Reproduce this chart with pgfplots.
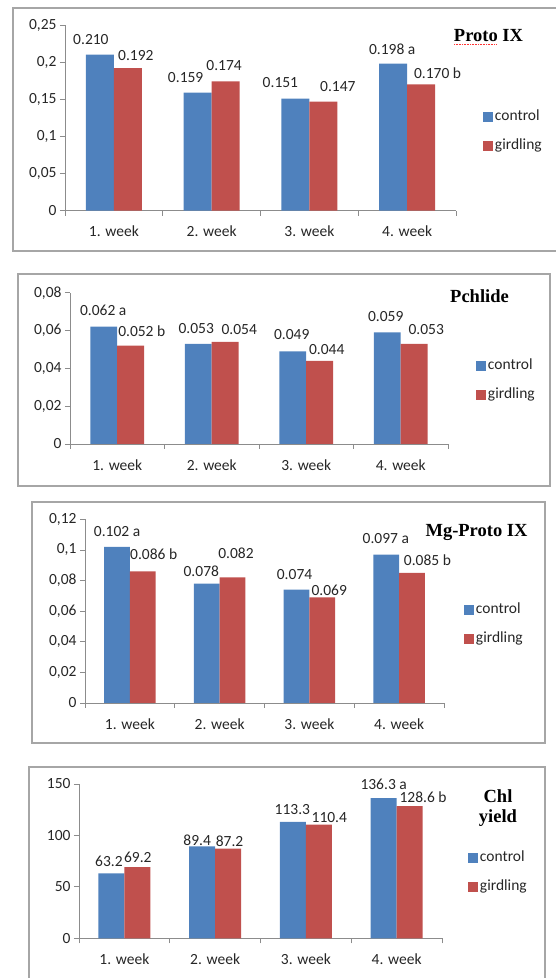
\documentclass[border=0pt]{standalone}
\usepackage{pgfplots}
\pgfplotsset{compat=1.18}
\usepackage{pgfplotstable}
\usepackage{fontspec}
\setmainfont{Carlito}
\newfontfamily\timesf{Liberation Serif}
\definecolor{cblue}{HTML}{4F81BD}
\definecolor{cred}{HTML}{C0504D}
\definecolor{axgray}{HTML}{8C8C8C}
\definecolor{boxgray}{HTML}{A6A6A6}

\pgfplotstableread{
x c cl cdx cdy g gl gdx gdy
1 0.210 0.210 -9 14.7 0.192 0.192 8 13
2 0.159 0.159 -12 14.6 0.174 0.174 -1.5 15.5
3 0.151 0.151 -15 15.5 0.147 0.147 14.5 14.5
4 0.198 {0.198 a} -1 14.6 0.170 {0.170 b} 16.5 11.4
}\protoix

\pgfplotstableread{
x c cl cdx cdy g gl gdx gdy
1 0.062 {0.062 a} -0.5 16.8 0.052 {0.052 b} 11 14
2 0.053 0.053 -2 14.8 0.054 0.054 14 12
3 0.049 0.049 -1 16.3 0.044 0.044 7 11.5
4 0.059 0.059 -1.5 15.7 0.053 0.053 12 13.8
}\pchlide

\pgfplotstableread{
x c cl cdx cdy g gl gdx gdy
1 0.102 {0.102 a} 0 15.8 0.086 {0.086 b} 11 17
2 0.078 0.078 -5.5 12.6 0.082 0.082 3.5 24
3 0.074 0.074 -2 15.4 0.069 0.069 7 7.4
4 0.097 {0.097 a} -0.5 16.2 0.085 {0.085 b} 15.5 12.2
}\mgproto

\pgfplotstableread{
x c cl cdx cdy g gl gdx gdy
1 63.2 63.2 -2.5 11.6 69.2 69.2 0.5 9.5
2 89.4 89.4 -5 6 87.2 87.2 1.5 7.6
3 113.3 113.3 -0.5 12.4 110.4 110.4 10.5 7.4
4 136.3 {136.3 a} 0 13.7 128.6 {128.6 b} 13.5 9.3
}\chlyield

\pgfplotsset{
  panel/.style={
    scale only axis, ybar=0pt, bar width=0.2857,
    xmin=0.5, xmax=4.5, ymin=0,
    scaled y ticks=false,
    axis lines*=left,
    axis line style={draw=axgray, line width=0.8pt},
    xtick={1,2,3,4}, xticklabels={1. week,2. week,3. week,4. week},
    major x tick style={draw=none},
    minor xtick={0.5,1.5,2.5,3.5,4.5},
    minor x tick style={draw=axgray, line width=0.8pt},
    ytick style={draw=axgray, line width=0.8pt},
    tick align=outside, major tick length=5pt, minor tick length=5pt,
    tick label style={font=\fontsize{15.5}{18}\selectfont, text=black!85},
    xticklabel style={yshift=-7pt},
    clip=false,
    legend style={draw=none, fill=none, inner sep=0pt, outer sep=0pt, anchor=west,
      font=\fontsize{15.5}{18}\selectfont, text=black!85, row sep=15pt,
      cells={anchor=west},
      nodes={inner sep=0pt, text height=10.5pt, text depth=3.5pt},
      /tikz/every odd column/.append style={column sep=2pt}},
    legend image code/.code={\fill[##1] (0pt,-5pt) rectangle (10pt,5pt);},
  },
  lab/.style={
    nodes near coords, point meta=explicit symbolic,
    every node near coord/.append style={font=\fontsize{15.5}{18}\selectfont,
      text=black!85, anchor=center, xshift=\dx, yshift=\dy},
  },
}

\begin{document}
\begin{tikzpicture}
\useasboundingbox (0pt,0pt) rectangle (556pt,978pt);
% panel boxes
\draw[boxgray, line width=1.5pt] (13pt,970pt) rectangle (560pt,727pt);
\draw[boxgray, line width=1.5pt] (18pt,704pt) rectangle (550pt,492pt);
\draw[boxgray, line width=1.5pt] (32pt,476pt) rectangle (545pt,235pt);
\draw[boxgray, line width=1.5pt] (29pt,211pt) rectangle (545pt,-5pt);

% Panel 1: Proto IX
\begin{axis}[panel, at={(65pt,767.3pt)}, anchor=south west,
  width=391pt, height=185.7pt, ymax=0.25,
  ytick={0,0.05,0.1,0.15,0.2,0.25},
  yticklabels={0,{0,05},{0,1},{0,15},{0,2},{0,25}},
  legend style={at={(axis description cs:1.069,0.4265)}}]
\addplot[fill=cblue, draw=none, lab,
  visualization depends on={\thisrow{cdx}\as\dx},
  visualization depends on={\thisrow{cdy}\as\dy}]
  table[x=x, y=c, meta=cl] {\protoix};
\addplot[fill=cred, draw=none, lab,
  visualization depends on={\thisrow{gdx}\as\dx},
  visualization depends on={\thisrow{gdy}\as\dy}]
  table[x=x, y=g, meta=gl] {\protoix};
\legend{control, girdling}
\end{axis}

% Panel 2: Pchlide
\begin{axis}[panel, at={(70pt,534pt)}, anchor=south west,
  width=378pt, height=151.3pt, ymax=0.08,
  ytick={0,0.02,0.04,0.06,0.08},
  yticklabels={0,{0,02},{0,04},{0,06},{0,08}},
  legend style={at={(axis description cs:1.074,0.4164)}}]
\addplot[fill=cblue, draw=none, lab,
  visualization depends on={\thisrow{cdx}\as\dx},
  visualization depends on={\thisrow{cdy}\as\dy}]
  table[x=x, y=c, meta=cl] {\pchlide};
\addplot[fill=cred, draw=none, lab,
  visualization depends on={\thisrow{gdx}\as\dx},
  visualization depends on={\thisrow{gdy}\as\dy}]
  table[x=x, y=g, meta=gl] {\pchlide};
\legend{control, girdling}
\end{axis}

% Panel 3: Mg-Proto IX
\begin{axis}[panel, at={(85pt,275pt)}, anchor=south west,
  width=359pt, height=183.7pt, ymax=0.12,
  ytick={0,0.02,0.04,0.06,0.08,0.1,0.12},
  yticklabels={0,{0,02},{0,04},{0,06},{0,08},{0,1},{0,12}},
  legend style={at={(axis description cs:1.0557,0.4246)}}]
\addplot[fill=cblue, draw=none, lab,
  visualization depends on={\thisrow{cdx}\as\dx},
  visualization depends on={\thisrow{cdy}\as\dy}]
  table[x=x, y=c, meta=cl] {\mgproto};
\addplot[fill=cred, draw=none, lab,
  visualization depends on={\thisrow{gdx}\as\dx},
  visualization depends on={\thisrow{gdy}\as\dy}]
  table[x=x, y=g, meta=gl] {\mgproto};
\legend{control, girdling}
\end{axis}

% Panel 4: Chl yield
\begin{axis}[panel, at={(79pt,39.7pt)}, anchor=south west,
  width=363pt, height=154.3pt, ymax=150,
  ytick={0,50,100,150},
  yticklabels={0,50,100,150},
  legend style={at={(axis description cs:1.0716,0.4264)}}]
\addplot[fill=cblue, draw=none, lab,
  visualization depends on={\thisrow{cdx}\as\dx},
  visualization depends on={\thisrow{cdy}\as\dy}]
  table[x=x, y=c, meta=cl] {\chlyield};
\addplot[fill=cred, draw=none, lab,
  visualization depends on={\thisrow{gdx}\as\dx},
  visualization depends on={\thisrow{gdy}\as\dy}]
  table[x=x, y=g, meta=gl] {\chlyield};
\legend{control, girdling}
\end{axis}

% titles
\begin{scope}[every node/.style={font=\timesf\bfseries\fontsize{18.5}{21}\selectfont, anchor=base, inner sep=0pt}]
\node at (488.5pt,936pt) {Proto IX};
\node at (479.5pt,675pt) {Pchlide};
\node at (476.5pt,441pt) {Mg-Proto IX};
\node at (498pt,175pt) {Chl};
\node at (498pt,155pt) {yield};
\end{scope}
\draw[red!80, densely dotted, line width=0.6pt] (454pt,933.5pt) -- (497pt,933.5pt);
\end{tikzpicture}
\end{document}
